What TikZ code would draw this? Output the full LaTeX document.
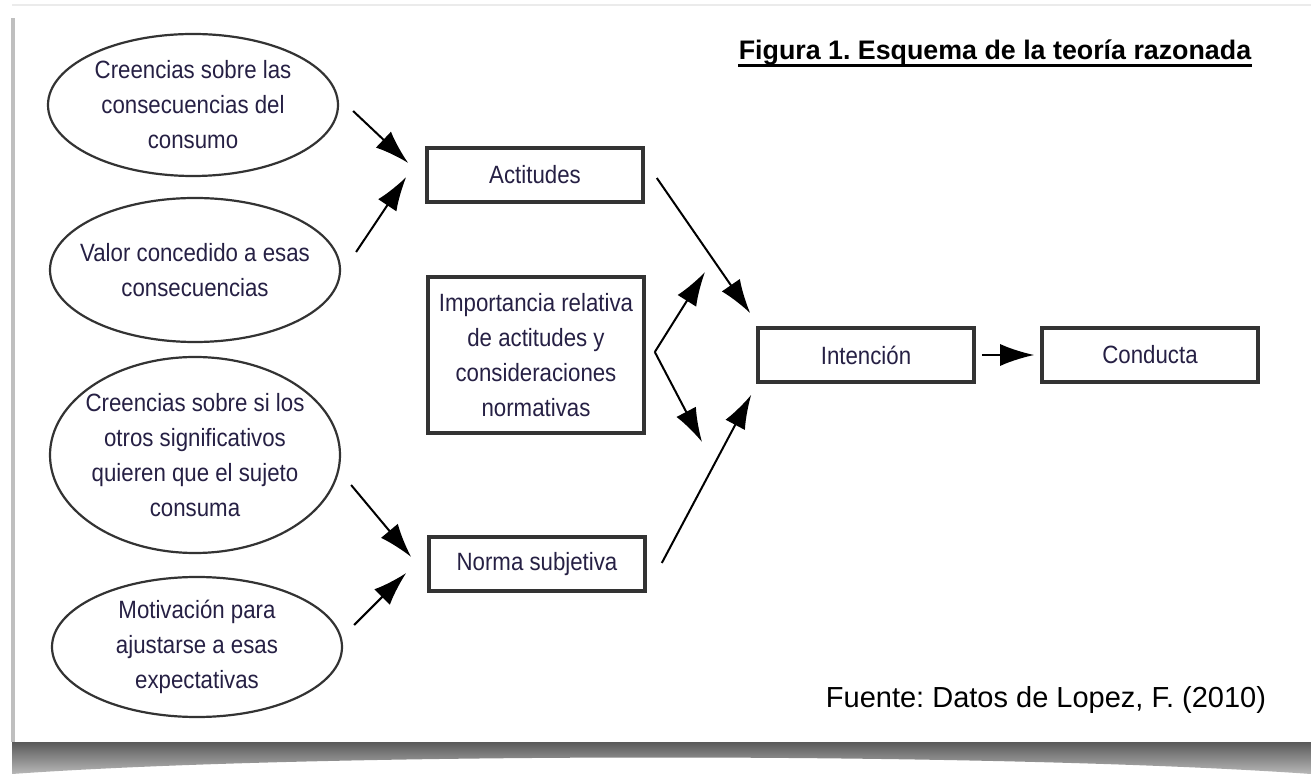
\documentclass[tikz,border=0pt]{standalone}
\usepackage{fontspec}
\setmainfont{Liberation Sans}
\newfontfamily\estrecha{Liberation Sans}[FakeStretch=0.89]
\usetikzlibrary{positioning,calc,arrows.meta,shapes.geometric}
\definecolor{tinta}{RGB}{38,32,68}
\frenchspacing

\begin{document}
\begin{tikzpicture}[x=0.5pt, y=-0.5pt, node distance={142pt}, thick, >={Latex[length=17pt,width=11pt]},
    elipse/.style = {draw=black!80, line width=1.1pt, ellipse, inner xsep=-14pt, inner ysep=-8pt, minimum width=145pt, align=center, text=tinta, font=\estrecha\fontsize{12.5}{17.5}\selectfont},
    caja/.style = {draw=black!80, line width=1.8pt, inner sep=0pt, minimum width=108pt, minimum height=27pt, align=center, text=tinta, font=\estrecha\fontsize{12.5}{17.5}\selectfont},
    flecha/.style = {->, line width=1pt}]
    \useasboundingbox (0,0) rectangle (1311,774);
    \fill[white] (0,0) rectangle (1311,774);
    \draw[black!8, line width=1pt] (12,5) -- (1311,5);
    \fill[black!25] (11,18) rectangle (15,742);
    \shade[top color=black!65, bottom color=black!28] (12,742) -- (1311,742) -- (1311,774) .. controls (1000,752) and (320,752) .. (12,774) -- cycle;

    \node[elipse, minimum height=71pt] (CC) at (193,105) {Creencias sobre las\\consecuencias del\\consumo};
    \node[elipse, minimum height=72pt] (VC) at (195,270) {Valor concedido a esas\\consecuencias};
    \node[elipse, minimum height=98pt] (CS) at (195,455) {Creencias sobre si los\\otros significativos\\quieren que el sujeto\\consuma};
    \node[elipse, minimum height=70pt] (MA) at (197,647) {Motivación para\\ajustarse a esas\\expectativas};
    \node[caja] (A) at (535,175) {Actitudes};
    \node[caja, minimum height=78pt] (IR) at (536,355) {Importancia relativa\\de actitudes y\\consideraciones\\normativas};
    \node[caja] (N) at (537,564) {Norma subjetiva};
    \node[caja] (I) at (866,355) {Intención};
    \node[caja] (C) [right of=I] {Conducta};
    \node[font=\bfseries\fontsize{13.4}{16}\selectfont, inner sep=0pt, anchor=base] (T) at (995,60) {Figura 1. Esquema de la teoría razonada};
    \node[font=\fontsize{14.5}{17}\selectfont, inner sep=0pt, anchor=base] (F) at (1046,707) {Fuente: Datos de Lopez, F. (2010)};
    \draw[line width=1.2pt] ([yshift=-2.7pt]T.base west) -- ([yshift=-2.7pt]T.base east);

    \coordinate (fork) at ($(IR.east)+(9,-3)$);
    \coordinate (arriba) at (705,272);
    \coordinate (abajo) at (702,442);
    \draw[flecha] ($(CC.east)+(14,6)$) -- ($(A.west)+(-17,-12)$);
    \draw[flecha] ($(VC.east)+(15,-18)$) -- ($(A.west)+(-19,2)$);
    \draw[flecha] ($(CS.east)+(10,30)$) -- ($(N.west)+(-16,-7)$);
    \draw[flecha] ($(MA.east)+(11,-22)$) -- ($(N.west)+(-21,9)$);
    \draw[flecha] ($(A.east)+(12,3)$) -- ($(I.north west)+(-6,-13)$);
    \draw[flecha] ($(N.east)+(15,-1)$) -- ($(I.south west)+(-5,11)$);
    \draw[flecha] (fork) -- (arriba);
    \draw[flecha] (fork) -- (abajo);
    \draw[flecha, shorten <=3pt, shorten >=3pt] (I) -- (C);
\end{tikzpicture}
\end{document}
